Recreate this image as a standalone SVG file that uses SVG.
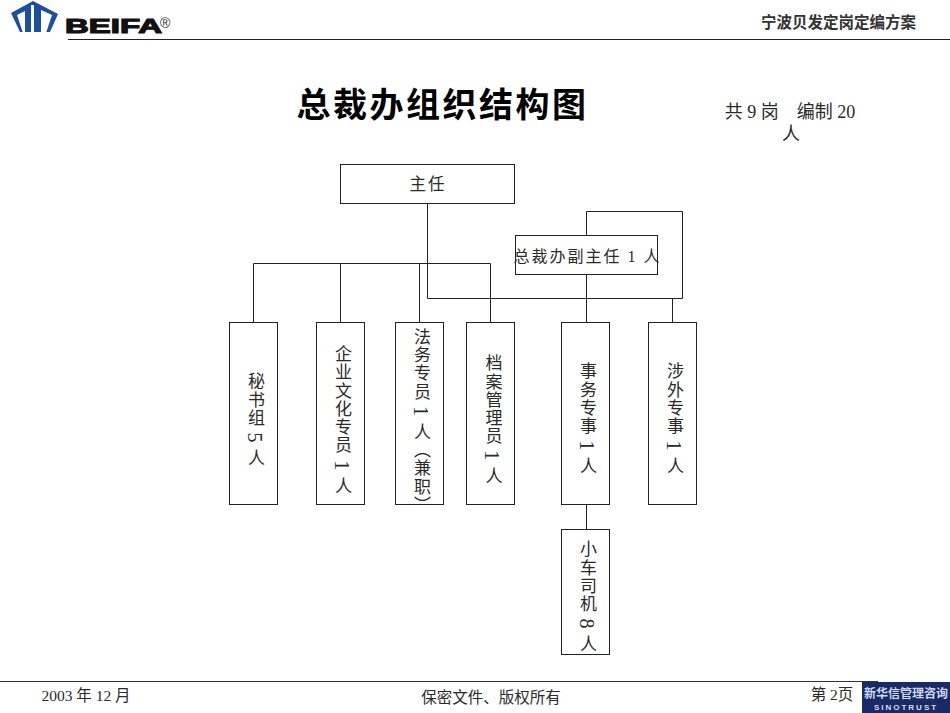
<svg xmlns="http://www.w3.org/2000/svg" width="950" height="713" viewBox="0 0 950 713">
<style>
text{font-family:"Liberation Serif","Noto Sans CJK SC",serif;fill:#2a2a2a}
.b{fill:#fff;stroke:#222;stroke-width:1}
.c{fill:none;stroke:#222;stroke-width:1}
.v{writing-mode:vertical-rl;font-size:17px;letter-spacing:1.200px;text-anchor:middle}
.h{font-size:16.500px;letter-spacing:2px;text-anchor:middle}
.d{font-size:20px}
</style>
<rect width="950" height="713" fill="#fff"/>
<g id="header">
<polygon points="11,13 33,1 58,14 50,32 20,32" fill="#1c4f9c"/>
<polygon points="17,15 25,11 25,33 23,33" fill="#fff"/>
<polygon points="31,5 34,5 34,33 31,33" fill="#fff"/>
<polygon points="41,10 52,15 46,33 41,33" fill="#fff"/>
<text x="65" y="33" font-size="21" font-weight="900" textLength="97" lengthAdjust="spacingAndGlyphs" style="font-family:'Liberation Sans','DejaVu Sans',sans-serif;fill:#111;stroke:#111;stroke-width:1.200">BEIFA</text>
<text x="160" y="28" font-size="14" style="font-family:'Liberation Sans',sans-serif">®</text>
<line x1="68" y1="39.500" x2="950" y2="39.500" stroke="#222"/>
<text x="838.500" y="28" font-size="15.500" text-anchor="middle" font-weight="bold" style="fill:#333">宁波贝发定岗定编方案</text>
</g>
<text id="title" x="442.500" y="117" font-size="34" font-weight="bold" text-anchor="middle" letter-spacing="2.500" style="fill:#000">总裁办组织结构图</text>
<g id="summary" font-size="18" text-anchor="middle">
<text x="790" y="118" xml:space="preserve">共 9 岗 &#160; &#160;编制 20</text>
<text x="791" y="140">人</text>
</g>
<g id="connectors" class="conn">
<path class="c" d="M427.500 204V298.500H682.500V211.500H586.500V235"/>
<path class="c" d="M253.500 322V263.500H490.500V322M340.500 263.500V322M419.500 263.500V322"/>
<path class="c" d="M586.500 275V322M672.500 298.500V322M586.500 504V529"/>
</g>
<g id="n-director"><rect class="b" x="340.500" y="164.500" width="174" height="39"/><text class="h" x="428" y="190">主任</text></g>
<g id="n-deputy"><rect class="b" x="515.500" y="235.500" width="142" height="39"/><text class="h" x="587.500" y="262" style="font-size:16px">总裁办副主任 1 人</text></g>
<g id="n-secretary"><rect class="b" x="229.500" y="322.500" width="48" height="182"/><text class="v" x="254.500" y="420">秘书组 <tspan class="d">5</tspan> 人</text></g>
<g id="n-culture"><rect class="b" x="316.500" y="322.500" width="48" height="182"/><text class="v" x="341.500" y="420">企业文化专员 <tspan class="d">1</tspan> 人</text></g>
<g id="n-legal"><rect class="b" x="395.500" y="322.500" width="48" height="182"/><text class="v" x="420.500" y="421">法务专员 <tspan class="d">1</tspan> 人（兼职）</text></g>
<g id="n-archive"><rect class="b" x="466.500" y="322.500" width="48" height="182"/><text class="v" x="492" y="420">档案管理员 <tspan class="d">1</tspan> 人</text></g>
<g id="n-affairs"><rect class="b" x="561.500" y="322.500" width="48" height="182"/><text class="v" x="586.500" y="419">事务专事 <tspan class="d">1</tspan> 人</text></g>
<g id="n-foreign"><rect class="b" x="648.500" y="322.500" width="48" height="182"/><text class="v" x="673.500" y="419">涉外专事 <tspan class="d">1</tspan> 人</text></g>
<g id="n-driver"><rect class="b" x="561.500" y="529.500" width="48" height="125"/><text class="v" x="586.500" y="597">小车司机 <tspan class="d">8</tspan> 人</text></g>
<g id="footer">
<line x1="0" y1="681.500" x2="878" y2="681.500" stroke="#333"/>
<text x="86" y="701" font-size="15.500" text-anchor="middle">2003 年 12 月</text>
<text x="491" y="703" font-size="15.500" text-anchor="middle">保密文件、版权所有</text>
<text x="832" y="700" font-size="15.500" text-anchor="middle">第 2页</text>
<rect x="862" y="682" width="88" height="31" fill="#1a2a66"/>
<text x="906" y="698" font-size="12" font-weight="bold" text-anchor="middle" style="fill:#cfd8ee">新华信管理咨询</text>
<text x="906" y="710" font-size="8" font-weight="bold" text-anchor="middle" letter-spacing="2" style="fill:#dde;font-family:'Liberation Sans',sans-serif">SINOTRUST</text>
</g>
</svg>
